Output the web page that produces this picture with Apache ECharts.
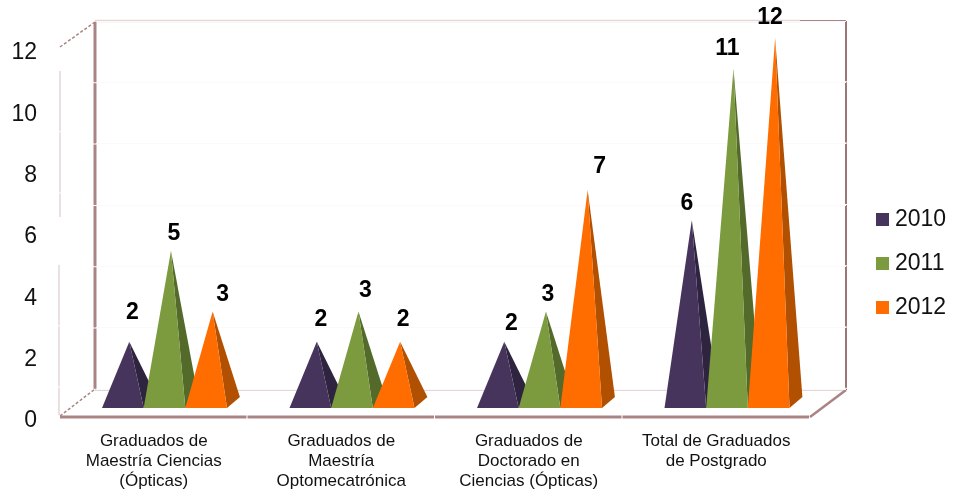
<!DOCTYPE html>
<html>
<head>
<meta charset="utf-8">
<style>html,body{margin:0;padding:0;background:#fff}#c{width:954px;height:494px}</style>
<script src="https://cdn.jsdelivr.net/npm/echarts@6/dist/echarts.min.js"></script>
</head>
<body>
<div id="c"></div>
<script>
const categories = [
  "Graduados de\nMaestría Ciencias\n(Ópticas)",
  "Graduados de\nMaestría\nOptomecatrónica",
  "Graduados de\nDoctorado en\nCiencias (Ópticas)",
  "Total de Graduados\nde Postgrado"
];
const seriesNames = ["2010", "2011", "2012"];
const values2010 = [2, 2, 2, 6];
const values2011 = [5, 3, 3, 11];
const values2012 = [3, 2, 7, 12];
const yTicks = [0, 2, 4, 6, 8, 10, 12];

const frontColors = ["#47345C", "#7C9A3E", "#FF6D00"];
const sideColors = ["#2E2440", "#536A2A", "#B05000"];
// hand placement of the value labels relative to each apex [dx, dy], as in the reference
const labelNudges = [
  [[3, -29], [3, -17], [10, -17]],
  [[4, -22], [7, -21], [3, -22]],
  [[7, -18], [2, -17], [12, -23]],
  [[-5, -17], [-6, -20], [-5, -20]]
];
const palePink = "#E5D6D6", darkPink = "#A98484";

function pyramid(seriesIdx) {
  return function (params, api) {
    const cat = api.value(0), val = api.value(1);
    const band = api.size([1, 0])[0];
    const w = band * 0.2222, dx = w * 0.31, dy = w * 0.265;
    const centre = api.coord([cat, 0])[0] + (seriesIdx - 1) * w;
    const y0 = api.coord([cat, 0])[1];
    const apexY = api.coord([cat, val])[1];
    const apexX = centre + dx / 2;
    const baseY = y0 + dy / 2;
    const l = centre - w / 2, r = centre + w / 2;
    const nudge = labelNudges[cat][seriesIdx];
    return {
      type: "group",
      children: [
        { type: "polygon", shape: { points: [[apexX, apexY], [r, baseY], [r + dx, baseY - dy]] },
          style: { fill: sideColors[seriesIdx] } },
        { type: "polygon", shape: { points: [[apexX, apexY], [l, baseY], [r, baseY]] },
          style: { fill: frontColors[seriesIdx] } },
        { type: "text", z2: 50,
          style: { x: apexX + nudge[0], y: apexY + nudge[1], text: String(val), fill: "#000",
            font: "bold 23px 'Liberation Sans', Arial, sans-serif", textAlign: "center", textVerticalAlign: "middle" } }
      ]
    };
  };
}
function seg(x1, y1, x2, y2, stroke, width, dash) {
  return { type: "line", silent: true, z: 0, shape: { x1, y1, x2, y2 },
    style: { stroke, lineWidth: width, lineDash: dash || null } };
}
const allValues = [values2010, values2011, values2012];
const chart = echarts.init(document.getElementById("c"), null, { renderer: "canvas" });
chart.setOption({
  animation: false,
  backgroundColor: "#fff",
  textStyle: { fontFamily: "'Liberation Sans', Arial, sans-serif" },
  grid: [
    { left: 70.75, width: 750, top: 38, height: 364.5 },   // pyramids
    { left: 60, width: 750, top: 53, height: 368 },        // front labels
    { left: 96, width: 750, top: 21, height: 368 }         // back wall
  ],
  xAxis: [
    { gridIndex: 0, type: "category", data: categories, show: false },
    { gridIndex: 1, type: "category", data: categories, axisLine: { show: false }, axisTick: { show: false },
      axisLabel: { interval: 0, margin: 10, fontSize: 17, lineHeight: 20, color: "#111" } },
    { gridIndex: 2, type: "category", data: categories, show: false }
  ],
  yAxis: [
    { gridIndex: 0, type: "value", min: 0, max: 12, interval: 2, show: false },
    { gridIndex: 1, type: "value", min: 0, max: 12, interval: 2, axisLine: { show: false }, axisTick: { show: false },
      splitLine: { show: false },
      axisLabel: { margin: 23, fontSize: 23, color: "#111", formatter: v => yTicks.includes(v) ? String(v) : "" } },
    { gridIndex: 2, type: "value", min: 0, max: 12, interval: 2, axisLine: { show: false }, axisTick: { show: false },
      axisLabel: { show: false }, splitLine: { lineStyle: { color: "#FBF9F9", width: 1 } } }
  ],
  legend: {
    orient: "vertical", left: 871, top: 203, itemWidth: 13, itemHeight: 13, itemGap: 21,
    icon: "rect", selectedMode: false, data: seriesNames,
    textStyle: { fontSize: 23, color: "#111", padding: [0, 0, 0, 1] }
  },
  graphic: { elements: [
    seg(95, 390, 846, 390, palePink, 2),
    seg(95, 21, 800, 21, palePink, 2.5),
    seg(800, 21, 846, 21, darkPink, 2),
    seg(846, 21, 846, 390, "#9C7575", 2, [60.3, 1]),
    seg(95, 22, 95, 389, darkPink, 3, [60.3, 1]),
    seg(60, 71, 60, 217, palePink, 1.5, [60.3, 1]),
    seg(59, 265, 59, 415, palePink, 1.5, [60.3, 1]),
    seg(60, 47, 95, 22, darkPink, 1.5, [3, 2]),
    seg(60, 416, 95, 389, darkPink, 1.5, [3, 2]),
    seg(60, 417, 810, 417, darkPink, 3, [186.5, 1]),
    seg(810, 417, 846, 390, darkPink, 2.5)
  ] },
  series: seriesNames.map((name, i) => ({
    name, type: "custom", xAxisIndex: 0, yAxisIndex: 0, z: 2 + i,
    clip: false,
    itemStyle: { color: frontColors[i] },
    encode: { x: 0, y: 1 },
    data: allValues[i].map((v, c) => [c, v]),
    renderItem: pyramid(i)
  }))
});
</script>
</body>
</html>
